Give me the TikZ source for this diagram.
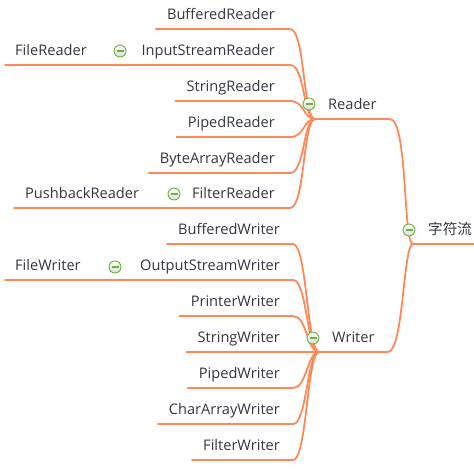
\documentclass[tikz,border=0pt]{standalone}
\usepackage{fontspec}
\setmainfont{Open Sans}
\newfontfamily\cjk{Noto Sans CJK SC}

\definecolor{branchorange}{RGB}{255,136,88}
\definecolor{topictext}{RGB}{50,54,66}
\definecolor{foldgreen}{RGB}{108,178,62}

\tikzset{
  branch/.style={draw=branchorange, line width=1.8pt, line cap=round},
  topic/.style={font=\fontsize{14.6}{16}\selectfont, text=topictext,
    text height=11pt, text depth=3.5pt, inner ysep=5.5pt, inner xsep=15pt},
  leaf/.style={topic, anchor=south east},
  fold/.style={circle, draw=foldgreen, line width=0.9pt, top color=white,
    bottom color=foldgreen!20!gray!30, minimum size=12pt, inner sep=0pt,
    path picture={\draw[foldgreen, line width=1.1pt]
      ([xshift=-3.5pt]path picture bounding box.center) --
      ([xshift=3.5pt]path picture bounding box.center);}}
}

\begin{document}
\begin{tikzpicture}[x=1pt, y=-1pt]
\useasboundingbox (0,0) rectangle (474,470);

% root and the two main topics
\node[topic, anchor=south west] (root) at (413,244) {\cjk 字符流};
\node[topic, anchor=south west, inner xsep=13pt] (reader) at (315,119) {Reader};
\node[topic, anchor=south west, inner xsep=13pt] (writer) at (319,352) {Writer};

% Reader subclasses
\node[leaf] (bufr) at (290,29) {BufferedReader};
\node[leaf] (isr) at (290,65) {InputStreamReader};
\node[leaf] (strr) at (290,101) {StringReader};
\node[leaf] (pipr) at (290,137) {PipedReader};
\node[leaf] (bar) at (290,173) {ByteArrayReader};
\node[leaf] (fltr) at (290,208) {FilterReader};
\node[topic, anchor=south west, inner xsep=10pt] (filer) at (5,65) {FileReader};
\node[topic, anchor=south west, inner xsep=11pt] (pbr) at (14,208) {PushbackReader};

% Writer subclasses
\node[leaf, inner xsep=13pt] (bufw) at (293,244) {BufferedWriter};
\node[leaf, inner xsep=13pt] (osw) at (293,280) {OutputStreamWriter};
\node[leaf, inner xsep=13pt] (prw) at (293,316) {PrinterWriter};
\node[leaf, inner xsep=13pt] (strw) at (293,352) {StringWriter};
\node[leaf, inner xsep=13pt] (pipw) at (293,388) {PipedWriter};
\node[leaf, inner xsep=13pt] (caw) at (293,424) {CharArrayWriter};
\node[leaf, inner xsep=13pt] (fltw) at (293,460) {FilterWriter};
\node[topic, anchor=south west, inner xsep=10pt] (filew) at (5,280) {FileWriter};

% branches to the root
\draw[branch] (root.south west) -- (root.south east);
\draw[branch] (reader.south west) -- (reader.south east) .. controls +(18,0) and +(-10,0) .. (root.south west);
\draw[branch] (writer.south west) -- (writer.south east) .. controls +(16,0) and +(-10,0) .. (root.south west);

% branches to Reader
\foreach \n in {bufr,isr,strr,pipr,bar,fltr}
  \draw[branch] ([xshift=4pt]\n.south west) -- (\n.south east) .. controls +(15,0) and +(-12,0) .. (reader.south west);
\draw[branch] (filer.south west) -- ([xshift=4pt]isr.south west);
\draw[branch] (pbr.south west) -- ([xshift=4pt]fltr.south west);

% branches to Writer
\foreach \n in {bufw,osw,prw,strw,pipw,caw,fltw}
  \draw[branch] ([xshift=2pt]\n.south west) -- (\n.south east) .. controls +(14,0) and +(-12,0) .. (writer.south west);
\draw[branch] (filew.south west) -- ([xshift=2pt]osw.south west);

% collapse buttons
\node[fold] (rootfold) at (409,230) {};
\node[fold] (readerfold) at (309,104) {};
\node[fold] (writerfold) at (313,338) {};
\node[fold] (isrfold) at (120,51) {};
\node[fold] (fltrfold) at (174,194) {};
\node[fold] (oswfold) at (115,267) {};

\end{tikzpicture}
\end{document}
